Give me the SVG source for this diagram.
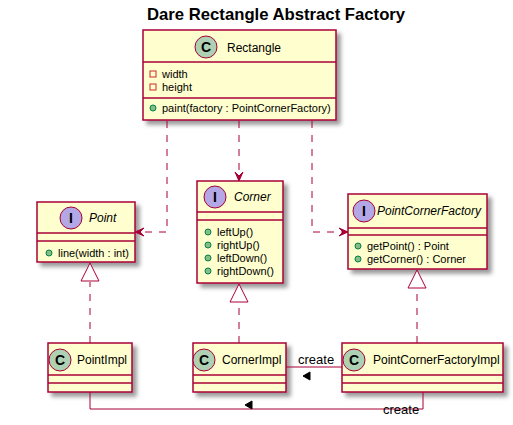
<svg xmlns="http://www.w3.org/2000/svg" width="513" height="425" viewBox="0 0 513 425">
<defs>
<filter id="sh" x="-10%" y="-10%" width="130%" height="140%">
<feGaussianBlur in="SourceAlpha" stdDeviation="2"/>
<feColorMatrix type="matrix" values="0 0 0 0 0  0 0 0 0 0  0 0 0 0 0  0 0 0 0.4 0"/>
<feOffset dx="4" dy="4" result="s"/>
<feMerge><feMergeNode in="s"/><feMergeNode in="SourceGraphic"/></feMerge>
</filter>
<style>
.box{fill:#FEFECE;stroke:#A80036;stroke-width:1.5;filter:url(#sh)}
.div{stroke:#A80036;stroke-width:1.5}
.cc{fill:#ADD1B2;stroke:#A80036;stroke-width:1}
.ci{fill:#B4A7E5;stroke:#A80036;stroke-width:1}
.lt{font-family:"Liberation Sans",Arial,sans-serif;font-size:14px;font-weight:bold;text-anchor:middle;fill:#000}
.nm{font-family:"Liberation Sans",Arial,sans-serif;font-size:12px;fill:#000}
.it{font-style:italic}
.mb{font-family:"Liberation Sans",Arial,sans-serif;font-size:11px;fill:#000}
.lb{font-family:"Liberation Sans",Arial,sans-serif;font-size:13px;fill:#000}
.pub{fill:#84BE84;stroke:#038048;stroke-width:1}
.prv{fill:none;stroke:#C82930;stroke-width:1}
.dep{fill:none;stroke:#A80036;stroke-width:1;stroke-dasharray:7,7}
.sol{fill:none;stroke:#A80036;stroke-width:1}
.ah{fill:#A80036;stroke:#A80036;stroke-width:1}
.lah{fill:#000000;stroke:#000000;stroke-width:1}
.tri{fill:#FFFFFF;stroke:#A80036;stroke-width:1}
</style>
</defs>
<rect width="513" height="425" fill="#FFFFFF"/>
<text x="147" y="19.5" font-family="'Liberation Sans',Arial,sans-serif" font-size="16.7" font-weight="bold">Dare Rectangle Abstract Factory</text>

<g id="Rectangle">
<rect class="box" x="143" y="30" width="193" height="90"/>
<circle class="cc" cx="206" cy="47" r="11"/>
<text class="lt" x="206" y="52">C</text>
<text class="nm" x="227" y="52">Rectangle</text>
<line class="div" x1="143" y1="62" x2="336" y2="62"/>
<rect class="prv" x="150" y="71" width="6" height="6"/>
<text class="mb" x="162" y="78">width</text>
<rect class="prv" x="150" y="84" width="6" height="6"/>
<text class="mb" x="162" y="91">height</text>
<line class="div" x1="143" y1="98" x2="336" y2="98"/>
<circle class="pub" cx="153" cy="108" r="3"/>
<text class="mb" x="162" y="112">paint(factory : PointCornerFactory)</text>
</g>

<g id="Point">
<rect class="box" x="37" y="202" width="98" height="60"/>
<circle class="ci" cx="71" cy="218" r="11"/>
<text class="lt" x="71" y="223">I</text>
<text class="nm it" x="89" y="222">Point</text>
<line class="div" x1="37" y1="233" x2="135" y2="233"/>
<line class="div" x1="37" y1="241" x2="135" y2="241"/>
<circle class="pub" cx="49" cy="253" r="3"/>
<text class="mb" x="58" y="257">line(width : int)</text>
</g>

<g id="Corner">
<rect class="box" x="197" y="181" width="86" height="102"/>
<circle class="ci" cx="215" cy="197" r="11"/>
<text class="lt" x="215" y="202">I</text>
<text class="nm it" x="234" y="201">Corner</text>
<line class="div" x1="197" y1="212" x2="283" y2="212"/>
<line class="div" x1="197" y1="220" x2="283" y2="220"/>
<circle class="pub" cx="208" cy="232" r="3"/>
<text class="mb" x="217" y="236">leftUp()</text>
<circle class="pub" cx="208" cy="245" r="3"/>
<text class="mb" x="217" y="249">rightUp()</text>
<circle class="pub" cx="208" cy="258" r="3"/>
<text class="mb" x="217" y="262">leftDown()</text>
<circle class="pub" cx="208" cy="271" r="3"/>
<text class="mb" x="217" y="275">rightDown()</text>
</g>

<g id="PointCornerFactory">
<rect class="box" x="348" y="194" width="139" height="75"/>
<circle class="ci" cx="364" cy="211" r="11"/>
<text class="lt" x="364" y="216">I</text>
<text class="nm it" x="377" y="215">PointCornerFactory</text>
<line class="div" x1="348" y1="228" x2="487" y2="228"/>
<line class="div" x1="348" y1="235" x2="487" y2="235"/>
<circle class="pub" cx="358" cy="246" r="3"/>
<text class="mb" x="367" y="250">getPoint() : Point</text>
<circle class="pub" cx="358" cy="259" r="3"/>
<text class="mb" x="367" y="263">getCorner() : Corner</text>
</g>

<g id="PointImpl">
<rect class="box" x="48" y="343" width="84" height="49"/>
<circle class="cc" cx="60" cy="360" r="11"/>
<text class="lt" x="60" y="365">C</text>
<text class="nm" x="77" y="364">PointImpl</text>
<line class="div" x1="48" y1="375" x2="132" y2="375"/>
<line class="div" x1="48" y1="383" x2="132" y2="383"/>
</g>

<g id="CornerImpl">
<rect class="box" x="193" y="343" width="93" height="49"/>
<circle class="cc" cx="204" cy="360" r="11"/>
<text class="lt" x="204" y="365">C</text>
<text class="nm" x="222" y="364">CornerImpl</text>
<line class="div" x1="193" y1="375" x2="286" y2="375"/>
<line class="div" x1="193" y1="383" x2="286" y2="383"/>
</g>

<g id="PointCornerFactoryImpl">
<rect class="box" x="342" y="343" width="161" height="49"/>
<circle class="cc" cx="354" cy="360" r="11"/>
<text class="lt" x="354" y="365">C</text>
<text class="nm" x="373" y="364">PointCornerFactoryImpl</text>
<line class="div" x1="342" y1="375" x2="503" y2="375"/>
<line class="div" x1="342" y1="383" x2="503" y2="383"/>
</g>

<g id="connectors">
<path class="dep" d="M167,121 V232 H136"/>
<polygon class="ah" points="135,232 144,228 140,232 144,236"/>
<path class="dep" d="M239,121 V180"/>
<polygon class="ah" points="239,181 235,172 239,176 243,172"/>
<path class="dep" d="M312,121 V232 H347"/>
<polygon class="ah" points="348,232 339,228 343,232 339,236"/>

<path class="dep" d="M90,343 V282"/>
<polygon class="tri" points="90,263 81,281 99,281"/>
<path class="dep" d="M239,343 V302"/>
<polygon class="tri" points="239,284 230,302 248,302"/>
<path class="dep" d="M417,343 V288"/>
<polygon class="tri" points="417,270 408,288 426,288"/>

<path class="sol" d="M342,367 H286"/>
<text class="lb" x="298" y="364">create</text>
<polygon class="lah" points="303,376 310,372 310,380"/>

<path class="sol" d="M423,392 V409 H90 V392"/>
<text class="lb" x="383" y="414">create</text>
<polygon class="lah" points="245,405 252,401 252,409"/>
</g>
</svg>
